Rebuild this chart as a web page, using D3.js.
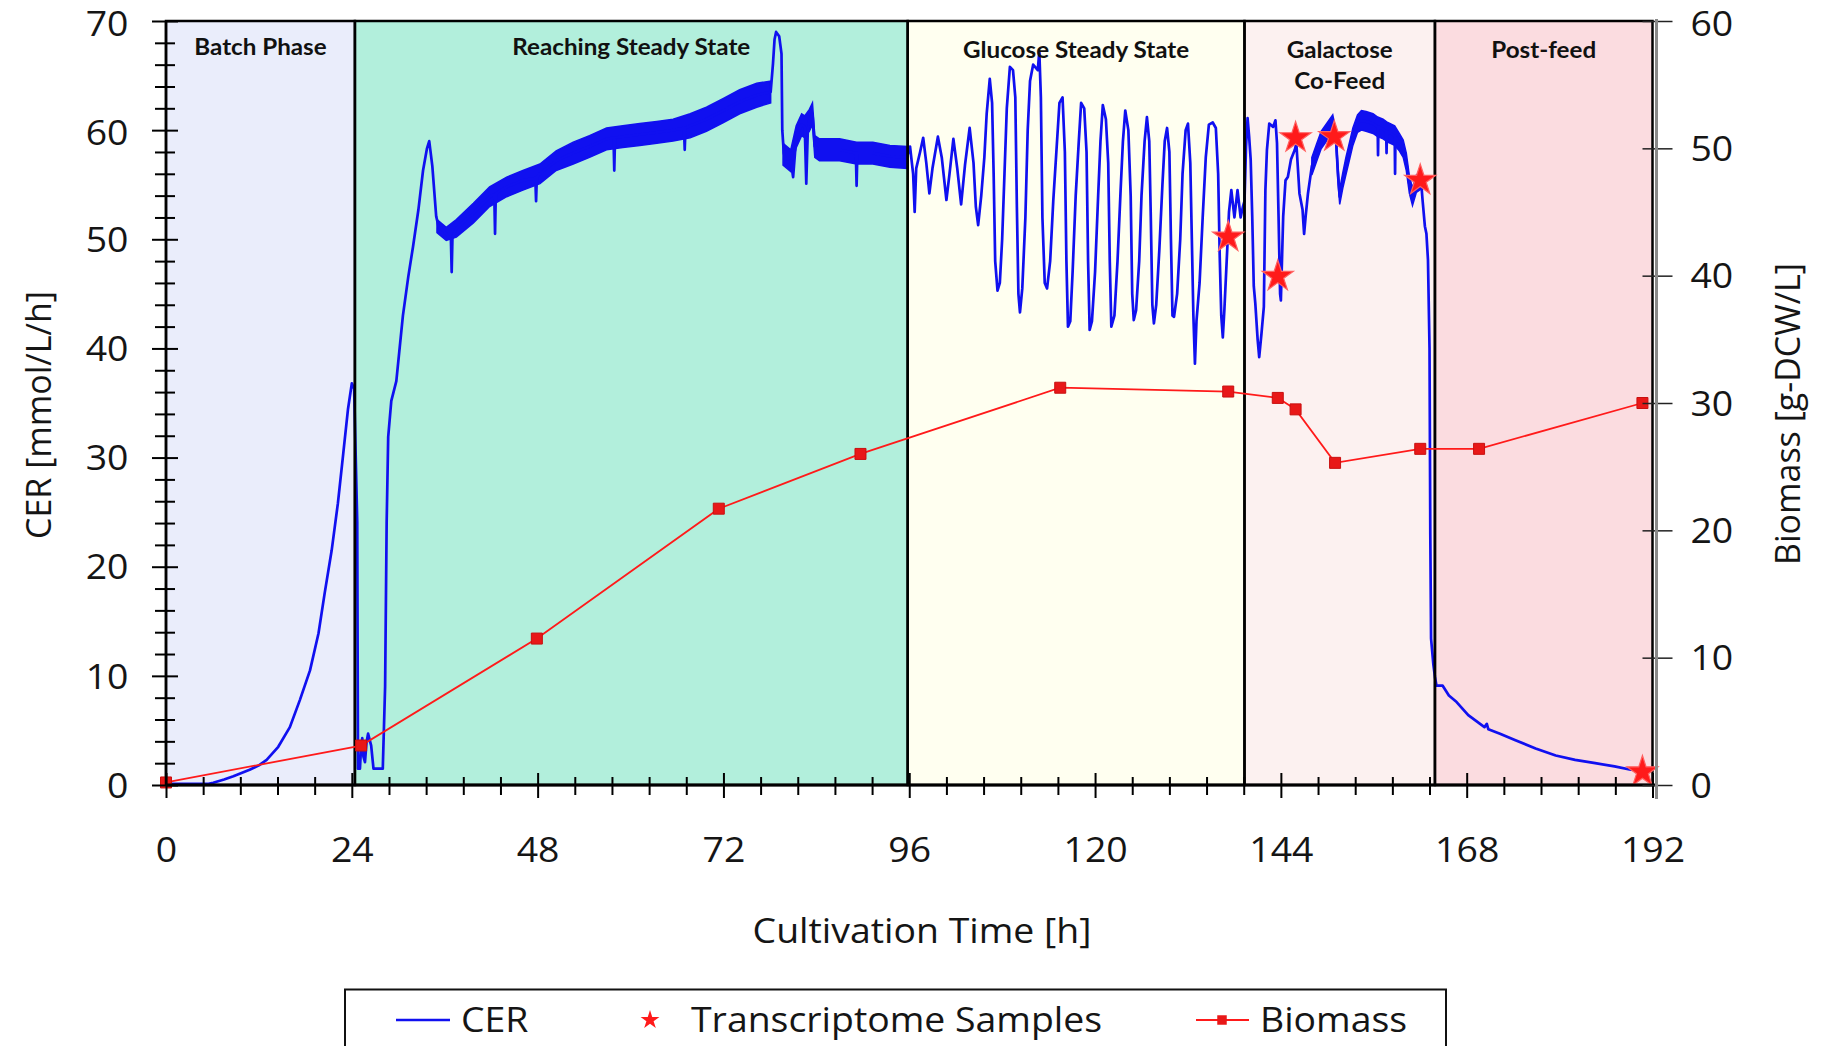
<!DOCTYPE html>
<html>
<head>
<meta charset="utf-8">
<script src="https://cdn.jsdelivr.net/npm/d3@7"></script>
<style>
  html, body { margin: 0; padding: 0; background: #ffffff; }
  svg { display: block; }
  .axis-text { font-family: "Open Sans", sans-serif; fill: #151515; }
  .phase-title { font-family: "Lato", sans-serif; font-weight: 700; fill: #111; }
</style>
</head>
<body>
<svg id="chart" width="1821" height="1046"></svg>
<script>
// ---- Cultivation phases ----
const phaseNames  = [["Batch Phase"], ["Reaching Steady State"], ["Glucose Steady State"], ["Galactose", "Co-Feed"], ["Post-feed"]];
const phaseStart  = [0, 24.4, 95.8, 139.3, 163.9];
const phaseEnd    = [24.4, 95.8, 139.3, 163.9, 192];
const phaseColors = ["#eaedfb", "#b2efdc", "#fffff0", "#fcf1f0", "#fbdce0"];

// ---- Axis ticks ----
const xMajorTicks = [0, 24, 48, 72, 96, 120, 144, 168, 192];
const cerTicks    = [0, 10, 20, 30, 40, 50, 60, 70];
const biomassTicks = [0, 10, 20, 30, 40, 50, 60];

// ---- CER trace [h, mmol/L/h] ----
const cerBatch = [
  [0,0.1],[3,0.1],[5.5,0.1],[6.1,0.2],[7.5,0.5],[8.7,0.8],[10.8,1.4],[12.0,1.8],[13.0,2.3],
  [14.5,3.5],[16.0,5.3],[17.3,7.8],[18.6,10.5],[19.7,13.9],[20.5,17.6],[21.4,21.5],[22.2,25.8],
  [22.9,30.4],[23.5,34.4],[24.0,36.8],[24.3,36.3]
];
const cerReaching = [
  [24.7,24.1],[24.8,1.5],[25.05,1.5],[25.2,3.5],[25.35,4.3],[25.5,2.6],[25.7,2.1],[25.9,3.9],
  [26.1,4.7],[26.5,3.6],[26.8,1.5],[28.0,1.5],[28.3,9.0],[28.5,24.0],[28.7,31.9],[29.1,35.2],
  [29.75,37.0],[30.6,43.0],[31.3,46.6],[31.9,49.3],[32.6,52.7],[33.2,56.3],[33.7,58.3],[34.0,59.0],
  [34.4,56.7],[34.9,52.1],[35.2,51.2],[36.2,50.5],[36.8,50.0],[36.9,47.0],[37.0,50.2],[37.5,51.0],
  [39.7,52.4],[41.8,53.9],[42.4,54.1],[42.5,50.5],[42.6,54.2],[44.0,54.8],[46.1,55.4],[47.7,55.6],
  [47.8,53.5],[47.9,55.7],[48.3,56.0],[50.4,57.2],[52.6,57.9],[54.7,58.5],[56.9,59.2],[57.8,59.3],
  [57.9,56.3],[58.0,59.3],[59.0,59.4],[61.2,59.6],[63.4,59.8],[65.5,60.0],[66.9,60.2],[67.0,58.2],
  [67.1,60.2],[67.7,60.4],[69.8,61.0],[72.0,61.8],[74.1,62.6],[76.3,63.2],[78.1,63.5],[78.4,66.1],
  [78.6,68.3],[78.8,69.0],[79.2,68.6],[79.5,67.0],[79.6,60.0],[79.8,57.9],[80.1,57.0],[80.7,57.2],
  [81.0,55.7],[81.2,57.5],[81.4,59.4],[82.1,60.5],[82.5,60.3],[82.7,55.1],[82.9,60.0],[83.1,60.9],
  [83.5,61.5],[83.8,58.5],[84.4,58.2],[87.0,58.2],[89.1,57.9],[89.2,54.9],[89.3,57.9],[91.3,57.9],
  [93.5,57.6],[95.7,57.5]
];
const cerGlucose = [
  [96.1,58.5],[96.5,56.0],[96.7,52.5],[96.9,56.5],[97.4,58.0],[97.8,59.3],[98.2,57.0],[98.6,54.2],
  [99.0,56.5],[99.7,59.4],[100.2,57.5],[100.8,53.6],[101.2,56.0],[101.7,59.2],[102.2,56.5],[102.7,53.2],
  [103.2,56.8],[103.8,60.2],[104.3,57.0],[104.6,53.0],[104.9,51.3],[105.3,54.0],[105.7,57.5],[106.0,61.5],
  [106.4,64.7],[106.7,62.5],[106.9,56.0],[107.1,48.0],[107.4,45.3],[107.7,46.0],[108.0,50.0],[108.3,56.0],
  [108.6,62.0],[109.0,65.8],[109.4,65.5],[109.7,63.0],[109.9,53.0],[110.1,45.0],[110.3,43.3],[110.6,45.5],
  [111.0,52.0],[111.3,60.0],[111.6,64.5],[112.0,66.0],[112.6,65.5],[112.8,67.2],[113.0,63.0],[113.2,52.0],
  [113.5,46.0],[113.8,45.5],[114.2,48.0],[114.6,53.5],[115.0,58.0],[115.4,62.5],[115.8,63.0],[116.1,58.0],
  [116.3,48.0],[116.5,42.0],[116.8,42.5],[117.1,47.0],[117.5,54.0],[117.9,59.0],[118.2,62.5],[118.6,62.0],
  [118.9,58.0],[119.1,48.0],[119.3,41.7],[119.6,42.5],[120.0,47.0],[120.4,54.0],[120.7,59.0],[121.0,62.3],
  [121.4,61.0],[121.7,57.0],[121.9,48.0],[122.1,42.0],[122.5,43.0],[122.9,48.0],[123.3,54.5],[123.6,59.0],
  [123.9,61.8],[124.3,60.0],[124.6,54.0],[124.8,45.0],[125.0,42.6],[125.3,43.5],[125.7,48.0],[126.0,54.0],
  [126.4,59.0],[126.7,61.2],[127.0,59.0],[127.2,52.0],[127.4,44.0],[127.6,42.3],[127.9,44.0],[128.3,49.0],
  [128.7,55.0],[129.0,59.0],[129.3,60.2],[129.6,58.0],[129.8,50.0],[130.0,43.0],[130.2,42.9],[130.6,45.0],
  [131.0,50.0],[131.3,56.0],[131.7,60.0],[132.0,60.6],[132.3,57.0],[132.5,50.0],[132.7,43.0],[132.9,38.6],
  [133.1,42.5],[133.5,46.0],[133.9,52.0],[134.3,57.5],[134.7,60.5],[135.2,60.7],[135.6,60.2],[135.9,56.0],
  [136.1,48.5],[136.3,43.0],[136.5,41.0],[136.7,43.5],[137.0,48.0],[137.3,52.5],[137.6,54.5],[138.0,52.0],
  [138.4,54.5],[138.8,52.0],[139.1,53.0]
];
const cerGalactose = [
  [139.3,53.5],[139.5,58.5],[139.7,61.1],[139.9,59.4],[140.1,57.3],[140.3,52.1],[140.5,45.7],[140.7,44.1],
  [141.0,40.8],[141.2,39.2],[141.5,41.4],[141.8,43.8],[142.0,54.5],[142.2,58.2],[142.5,60.6],[143.0,60.3],
  [143.3,60.9],[143.5,58.8],[143.7,52.1],[143.9,45.0],[144.0,44.4],[144.3,52.1],[144.6,55.4],[144.9,55.7],
  [145.3,57.3],[145.8,58.2],[146.0,58.8],[146.4,54.2],[146.8,52.7],[147.0,50.5],[147.2,52.1],[147.5,54.2],
  [148.0,56.7],[148.6,57.9],[149.2,59.1],[150.1,60.0],[150.7,60.6],[151.1,59.4],[151.4,55.7],[151.6,53.9],
  [152.0,55.4],[152.4,56.7],[152.9,58.2],[153.3,59.4],[153.9,60.6],[154.4,60.9],[155.0,60.8],[155.9,60.6],
  [156.5,60.3],[156.55,57.7],[156.6,60.3],[157.2,60.1],[157.6,59.9],[157.65,57.9],[157.7,59.9],[158.7,59.5],
  [158.75,56.0],[158.8,59.4],[159.3,58.9],[159.8,58.3],[160.2,57.1],[160.6,55.0],[161.0,53.9],[161.5,55.1],
  [162.1,55.4],[162.3,53.6],[162.6,51.2],[162.8,50.5],[163.0,48.1],[163.2,40.0],[163.3,23.0],[163.4,13.4],
  [163.7,11.0]
];
const cerPostFeed = [
  [163.9,9.9],[164.1,9.1],[164.9,9.1],[165.7,8.2],[166.7,7.6],[168.2,6.4],[170.3,5.3],[170.6,5.6],
  [170.8,5.1],[172.3,4.7],[174.3,4.1],[176.9,3.35],[179.5,2.7],[182.0,2.3],[184.6,2.0],[187.1,1.7],
  [189.2,1.4],[190.7,1.35]
];

// ---- CER sensor noise envelope [h, low, high] ----
const cerNoiseReaching = [
  [35.0,50.6,51.8],[36.2,49.9,51.1],[37.5,50.2,51.8],[39.7,51.5,53.3],[41.8,53.0,54.8],[44.0,53.9,55.7],
  [46.1,54.5,56.3],[48.3,55.1,56.9],[50.4,56.3,58.1],[52.6,56.9,58.9],[54.7,57.5,59.5],[56.9,58.2,60.2],
  [59.0,58.4,60.4],[61.2,58.6,60.6],[63.4,58.8,60.8],[65.5,59.0,61.0],[67.7,59.3,61.5],[69.8,59.9,62.1],
  [72.0,60.7,62.9],[74.1,61.5,63.7],[76.3,62.1,64.3],[78.1,62.5,64.5]
];
const cerNoiseLate = [
  [79.7,56.8,58.8],[80.7,56.2,58.2],[81.4,58.4,60.4],[82.1,59.5,61.5],[82.5,59.3,61.3],[83.1,59.9,61.9],
  [83.5,60.5,62.5],[83.8,57.5,59.5],[84.4,57.2,59.2],[87.0,57.2,59.2],[89.2,56.9,58.9],[91.3,56.9,58.9],
  [93.5,56.6,58.6],[95.7,56.5,58.5]
];
const cerNoiseGalactose = [
  [148.0,55.9,57.5],[148.6,57.1,58.7],[149.2,58.3,59.9],[150.1,59.2,60.8],[150.7,59.8,61.4],[151.1,58.8,60.0],
  [151.4,55.0,56.4],[151.6,53.2,54.6],[152.0,54.7,56.1],[152.4,55.9,57.5],[152.9,57.4,59.0],[153.3,58.6,60.2],
  [153.9,59.8,61.4],[154.4,60.0,61.8],[155.0,59.9,61.7],[155.9,59.7,61.5],[156.5,59.4,61.2],[157.2,59.2,61.0],
  [157.8,58.9,60.7],[158.7,58.6,60.4],[159.3,58.1,59.7],[159.8,57.5,59.1],[160.2,56.3,57.9],[160.6,54.2,55.8],
  [161.0,53.1,54.7],[161.5,54.3,55.9],[162.1,54.6,56.2]
];

// ---- Transcriptome sampling points [h, CER] ----
const sampleTimes = [137.2, 143.6, 145.9, 150.9, 162.0, 190.7];
const sampleCER   = [50.2, 46.6, 59.3, 59.4, 55.4, 1.2];

// ---- Biomass [h, g-DCW/L] ----
const biomassTimes  = [0, 25.2, 47.9, 71.4, 89.7, 115.5, 137.2, 143.6, 145.9, 151.0, 162.0, 169.6, 190.7];
const biomassValues = [0.2, 3.1, 11.5, 21.7, 26.0, 31.2, 30.9, 30.4, 29.5, 25.3, 26.4, 26.4, 30.0];

// ---- Layout ----
const svg = d3.select("#chart");
const plotLeft = 166, plotRight = 1652.5, plotTop = 21, plotBottom = 785;
const rightAxisX = 1656.5;
const SX = 1.1; // horizontal text stretch

const x  = d3.scaleLinear().domain([0, 192]).range([plotLeft, plotRight]);
const yL = d3.scaleLinear().domain([0, 70]).range([plotBottom, plotTop]);
const yR = d3.scaleLinear().domain([0, 60]).range([plotBottom, plotTop]);

const BLUE = "#1010f0", RED = "#ff1a1a";

// phase backgrounds
const phases = phaseNames.map((n, i) => ({ names: n, s: phaseStart[i], e: phaseEnd[i], c: phaseColors[i] }));
svg.append("g").selectAll("rect").data(phases).join("rect")
  .attr("x", d => x(d.s)).attr("y", plotTop)
  .attr("width", d => x(d.e) - x(d.s)).attr("height", plotBottom - plotTop)
  .attr("fill", d => d.c);

// CER noise envelopes
const band = d3.area().x(d => x(d[0])).y0(d => yL(d[1])).y1(d => yL(d[2]));
const bandG = svg.append("g");
[cerNoiseReaching, cerNoiseLate, cerNoiseGalactose].forEach(b => {
  bandG.append("path").attr("d", band(b)).attr("fill", BLUE).attr("stroke", BLUE).attr("stroke-width", 1.5);
});

// CER line
const cerAll = [].concat(cerBatch, cerReaching, cerGlucose, cerGalactose, cerPostFeed);
const line = d3.line().x(d => x(d[0])).y(d => yL(d[1]));
svg.append("path").attr("d", line(cerAll))
  .attr("fill", "none").attr("stroke", BLUE).attr("stroke-width", 2.7).attr("stroke-linejoin", "round");

// phase borders
svg.append("g").selectAll("rect").data(phases).join("rect")
  .attr("x", d => x(d.s)).attr("y", plotTop)
  .attr("width", d => x(d.e) - x(d.s)).attr("height", plotBottom - plotTop)
  .attr("fill", "none").attr("stroke", "#000").attr("stroke-width", 2.5);

// phase titles
const titleBase = [55, 55, 58, 58, 58];
phases.forEach((p, i) => {
  p.names.forEach((t, j) => {
    svg.append("g")
      .attr("transform", `translate(${x((p.s + p.e) / 2)},${titleBase[i] + j * 31}) scale(${SX},1)`)
      .append("text").attr("class", "phase-title").attr("text-anchor", "middle")
      .attr("font-size", 22).text(t);
  });
});

// biomass
const bio = biomassTimes.map((t, i) => [t, biomassValues[i]]);
const bioLine = d3.line().x(d => x(d[0])).y(d => yR(d[1]));
svg.append("path").attr("d", bioLine(bio)).attr("fill", "none").attr("stroke", RED).attr("stroke-width", 1.8);
svg.append("g").selectAll("path").data(bio).join("path")
  .attr("transform", d => `translate(${x(d[0])},${yR(d[1])})`)
  .attr("d", d3.symbol(d3.symbolSquare, 121)())
  .attr("fill", "#e81818").attr("stroke", "#c81010").attr("stroke-width", 1);

// transcriptome samples
const samples = sampleTimes.map((t, i) => [t, sampleCER[i]]);
svg.append("g").selectAll("path").data(samples).join("path")
  .attr("transform", d => `translate(${x(d[0])},${yL(d[1])})`)
  .attr("d", d3.symbol(d3.symbolStar, 300)())
  .attr("fill", RED).attr("stroke", "#ff6060").attr("stroke-width", 1.2);

// ---- Axes ----
const ax = svg.append("g");
// bottom axis
const xMinor = d3.range(0, 192.01, 4.8).filter(v => !xMajorTicks.some(m => Math.abs(m - v) < 0.01));
const xb = d3.axisBottom(x).tickValues(xMinor).tickFormat("").tickSize(10).tickSizeOuter(0);
const xbG = ax.append("g").attr("transform", `translate(0,${plotBottom})`).call(xb);
xbG.selectAll(".tick line").attr("y1", -8).attr("stroke", "#000").attr("stroke-width", 2);
const xa = d3.axisBottom(x).tickValues(xMajorTicks).tickSize(13).tickSizeOuter(0).tickFormat(d3.format("d"));
const xaG = ax.append("g").attr("transform", `translate(0,${plotBottom})`).call(xa);
xaG.selectAll(".tick line").attr("y1", -12).attr("stroke", "#000").attr("stroke-width", 2);
xaG.selectAll(".tick text").attr("class", "axis-text").attr("font-size", 34)
  .attr("y", 77).attr("dy", null).attr("transform", `scale(${SX},1)`);
xaG.selectAll(".domain").remove(); xbG.selectAll(".domain").remove();
ax.append("line").attr("x1", plotLeft).attr("x2", rightAxisX + 1).attr("y1", plotBottom).attr("y2", plotBottom)
  .attr("stroke", "#000").attr("stroke-width", 3);

// labels at the very top sit a little lower so they stay inside the page
const labelDy = v => (v === 70 || v === 60 ? 14.8 : 12.2);

// left axis
const yMinor = d3.range(0, 70.01, 2).filter(v => v % 10 !== 0);
const ylm = d3.axisLeft(yL).tickValues(yMinor).tickFormat("").tickSize(11).tickSizeOuter(0);
const ylmG = ax.append("g").attr("transform", `translate(${plotLeft},0)`).call(ylm);
ylmG.selectAll(".tick line").attr("x1", 9).attr("stroke", "#000").attr("stroke-width", 2);
const yla = d3.axisLeft(yL).tickValues(cerTicks).tickSize(14).tickSizeOuter(0);
const ylaG = ax.append("g").attr("transform", `translate(${plotLeft},0)`).call(yla);
ylaG.selectAll(".tick line").attr("x1", 12).attr("stroke", "#000").attr("stroke-width", 2);
ylaG.selectAll(".tick text").attr("class", "axis-text").attr("font-size", 34)
  .attr("x", -37.5 / SX).attr("dy", d => labelDy(d)).attr("transform", `scale(${SX},1)`);
ylaG.selectAll(".domain").remove(); ylmG.selectAll(".domain").remove();
ax.append("line").attr("x1", plotLeft).attr("x2", plotLeft).attr("y1", plotTop).attr("y2", plotBottom + 1)
  .attr("stroke", "#000").attr("stroke-width", 2.5);

// right axis
const yra = d3.axisRight(yR).tickValues(biomassTicks).tickSize(16).tickSizeOuter(0);
const yraG = ax.append("g").attr("transform", `translate(${rightAxisX},0)`).call(yra);
yraG.selectAll(".tick line").attr("x1", -14).attr("stroke", "#222").attr("stroke-width", 1.5);
yraG.selectAll(".tick text").attr("class", "axis-text").attr("font-size", 34)
  .attr("x", 34 / SX).attr("dy", d => labelDy(d)).attr("transform", `scale(${SX},1)`);
yraG.selectAll(".domain").remove();
ax.append("line").attr("x1", rightAxisX).attr("x2", rightAxisX).attr("y1", plotTop - 2).attr("y2", plotBottom + 14)
  .attr("stroke", "#8a8a8a").attr("stroke-width", 3);

// axis titles
svg.append("g").attr("transform", `translate(922,943) scale(${SX},1)`)
  .append("text").attr("class", "axis-text").attr("text-anchor", "middle").attr("font-size", 34)
  .text("Cultivation Time [h]");
svg.append("text").attr("class", "axis-text").attr("text-anchor", "middle").attr("font-size", 34)
  .attr("transform", "translate(51,415) rotate(-90)").text("CER [mmol/L/h]");
svg.append("text").attr("class", "axis-text").attr("text-anchor", "middle").attr("font-size", 34)
  .attr("transform", "translate(1800,414) rotate(-90)").text("Biomass [g-DCW/L]");

// ---- Legend ----
const lg = svg.append("g");
lg.append("rect").attr("x", 345).attr("y", 989.5).attr("width", 1101).attr("height", 80)
  .attr("fill", "#fff").attr("stroke", "#111").attr("stroke-width", 2);
const ly = 1020, lb = 1032;
lg.append("line").attr("x1", 396).attr("x2", 450).attr("y1", ly).attr("y2", ly).attr("stroke", BLUE).attr("stroke-width", 2.4);
lg.append("g").attr("transform", `translate(461,${lb}) scale(${SX},1)`).append("text")
  .attr("class", "axis-text").attr("font-size", 34).text("CER");
lg.append("path").attr("transform", `translate(650,${ly})`).attr("d", d3.symbol(d3.symbolStar, 110)()).attr("fill", RED);
lg.append("g").attr("transform", `translate(691,${lb}) scale(${SX},1)`).append("text")
  .attr("class", "axis-text").attr("font-size", 34).text("Transcriptome Samples");
lg.append("line").attr("x1", 1196).attr("x2", 1249).attr("y1", ly).attr("y2", ly).attr("stroke", RED).attr("stroke-width", 1.8);
lg.append("path").attr("transform", `translate(1222,${ly})`).attr("d", d3.symbol(d3.symbolSquare, 90)()).attr("fill", "#e81818");
lg.append("g").attr("transform", `translate(1260,${lb}) scale(${SX},1)`).append("text")
  .attr("class", "axis-text").attr("font-size", 34).text("Biomass");
</script>
</body>
</html>
